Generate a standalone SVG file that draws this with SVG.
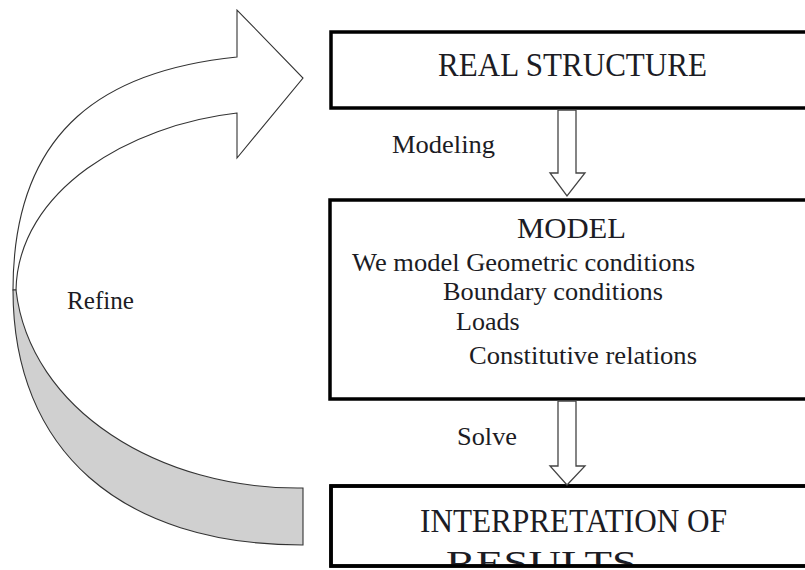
<svg xmlns="http://www.w3.org/2000/svg" width="805" height="570" viewBox="0 0 805 570">
<style>
.box{fill:#fff;stroke:#000;stroke-width:3.5}
.blk{fill:#fff;stroke:#444;stroke-width:1.3;stroke-linejoin:miter}
.t{fill:#1c1c24}
.ribbon{stroke:#333;stroke-width:1.1;stroke-linejoin:miter}
</style>
<defs>
<clipPath id="c3"><rect x="331" y="486" width="480" height="79"/></clipPath>
</defs>
<rect width="805" height="570" fill="#fff"/>
<g font-family="'Liberation Serif', 'DejaVu Serif', serif">
<g id="refine-arrow">
<path class="ribbon" fill="#fff" d="M237,57 L237,10 L303,78 L237,158 L237,113 C130,125 18,190 16,290 L13,290 C13,125 110,70 237,57 Z"/>
<path class="ribbon" fill="#d0d0d0" d="M13,290 C13,450 120,545 303,545 L303,488 C160,490 30,410 16,290 Z"/>
<text class="t" x="67" y="309" font-size="25" textLength="67" lengthAdjust="spacingAndGlyphs">Refine</text>
</g>
<g id="real-structure">
<rect class="box" x="331" y="32" width="480" height="76"/>
<text class="t" x="438" y="76" font-size="33" textLength="269" lengthAdjust="spacingAndGlyphs">REAL STRUCTURE</text>
</g>
<g id="model">
<rect class="box" x="330" y="200" width="481" height="199"/>
<text class="t" x="517" y="238" font-size="30" textLength="109" lengthAdjust="spacingAndGlyphs">MODEL</text>
<text class="t" x="352" y="271" font-size="26" textLength="343" lengthAdjust="spacingAndGlyphs">We model Geometric conditions</text>
<text class="t" x="443" y="300" font-size="26" textLength="220" lengthAdjust="spacingAndGlyphs">Boundary conditions</text>
<text class="t" x="456" y="330" font-size="26">Loads</text>
<text class="t" x="469" y="364" font-size="26" textLength="228" lengthAdjust="spacingAndGlyphs">Constitutive relations</text>
</g>
<g id="interpretation">
<rect class="box" x="331" y="486" width="480" height="80"/>
<g clip-path="url(#c3)">
<text class="t" x="420" y="532" font-size="33" textLength="307" lengthAdjust="spacingAndGlyphs">INTERPRETATION OF</text>
<text class="t" x="446" y="574" font-size="33" textLength="191" lengthAdjust="spacingAndGlyphs">RESULTS</text>
</g>
<rect x="331" y="486" width="480" height="80" fill="none" stroke="#000" stroke-width="3.5"/>
</g>
<g id="connectors">
<path class="blk" d="M558,110 L558,173 L550,173 L567,196 L585,173 L576,173 L576,110 Z"/>
<text class="t" x="392" y="153" font-size="26" textLength="103" lengthAdjust="spacingAndGlyphs">Modeling</text>
<path class="blk" d="M558,401 L558,466 L550,466 L567,485 L585,466 L576,466 L576,401 Z"/>
<text class="t" x="457" y="445" font-size="26" textLength="60" lengthAdjust="spacingAndGlyphs">Solve</text>
</g>
</g>
</svg>
